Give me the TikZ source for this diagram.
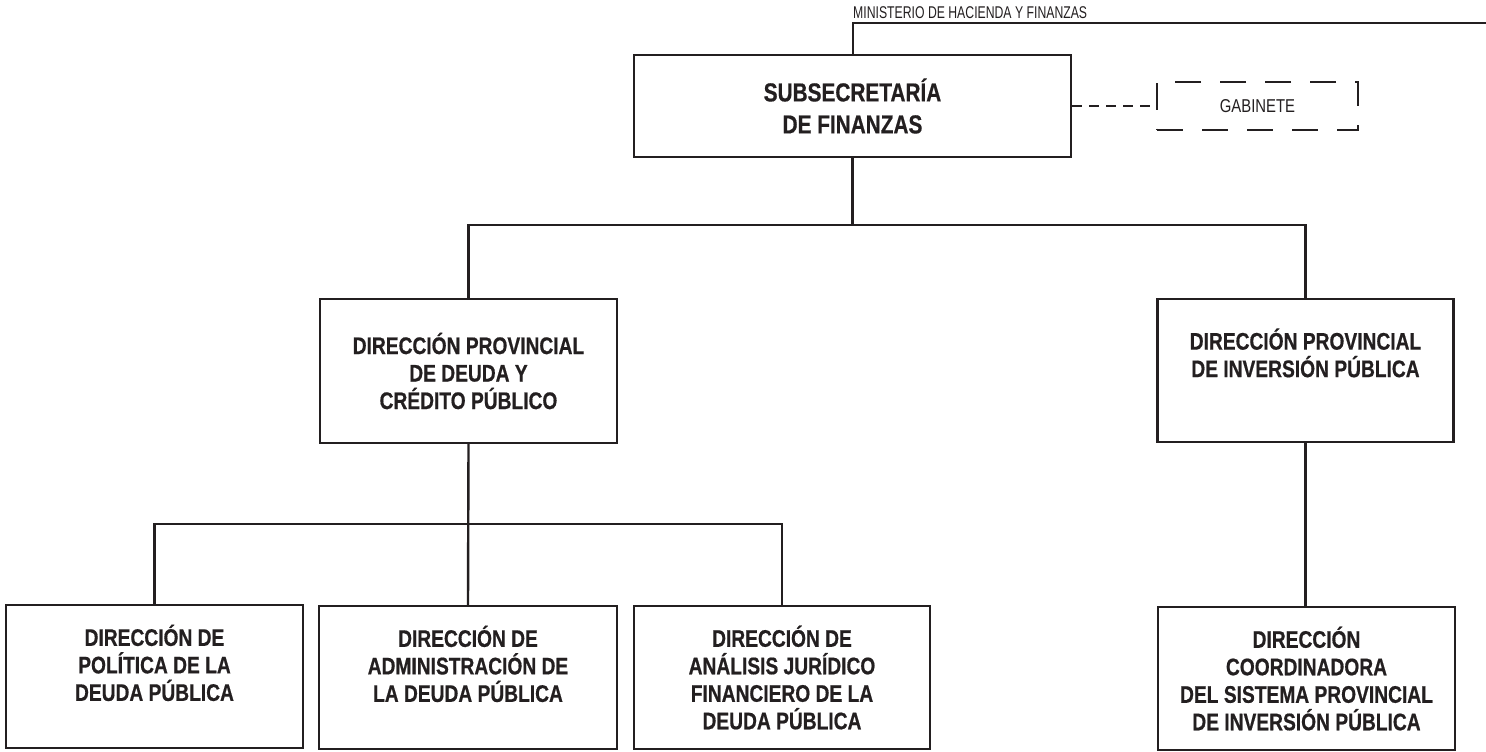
\documentclass[tikz,border=0pt]{standalone}
\usepackage{fontspec}
\setmainfont{Liberation Sans}[FakeStretch=0.8, BoldFeatures={FakeBold=0.6}]
\newfontfamily\narrowfont{Liberation Sans}[FakeStretch=0.72]
\definecolor{ink}{HTML}{231F20}
\tikzset{
  orgline/.style={draw=ink, line width=2.4pt},
  orgbox/.style={draw=ink, line width=2.4pt, rectangle, align=center, text=ink, inner sep=0pt,
     font=\fontsize{24}{27.5}\selectfont\bfseries},
  subbox/.style={orgbox, font=\fontsize{26}{32}\selectfont\bfseries},
  dashbox/.style={draw=ink, line width=2pt, dash pattern=on 26pt off 19pt, rectangle, align=center,
     text=ink, inner sep=0pt, font=\fontsize{18.6}{20}\selectfont},
  dashlink/.style={draw=ink, line width=2pt, dash pattern=on 10pt off 7pt},
  toplabel/.style={text=ink, inner sep=0pt, font=\narrowfont\fontsize{17}{20}\selectfont}
}
\begin{document}
\begin{tikzpicture}[x=1pt,y=-1pt]
\useasboundingbox (0,0) rectangle (1486,752);
% boxes
\node[subbox, minimum width=437pt, minimum height=102pt] (sub) at (852.5,106) {SUBSECRETARÍA\\DE FINANZAS};
\node[dashbox, minimum width=201pt, minimum height=47pt] (gab) at (1257.5,106) {GABINETE};
\node[orgbox, minimum width=297pt, minimum height=144pt] (dpd) at (468.5,371) {DIRECCIÓN PROVINCIAL\\DE DEUDA Y\\CRÉDITO PÚBLICO};
\node[orgbox, minimum width=296pt, minimum height=143pt] (dpi) at (1305.5,370.5) {DIRECCIÓN PROVINCIAL\\DE INVERSIÓN PÚBLICA\\[8pt]};
\node[orgbox, minimum width=297pt, minimum height=143pt] (b1) at (154.5,676.5) {DIRECCIÓN DE\\POLÍTICA DE LA\\DEUDA PÚBLICA\\[0pt]};
\node[orgbox, minimum width=298pt, minimum height=143pt] (b2) at (468,677.5) {DIRECCIÓN DE\\ADMINISTRACIÓN DE\\LA DEUDA PÚBLICA\\[0pt]};
\node[orgbox, minimum width=296pt, minimum height=143pt] (b3) at (782,677.5) {DIRECCIÓN DE\\ANÁLISIS JURÍDICO\\FINANCIERO DE LA\\DEUDA PÚBLICA};
\node[orgbox, minimum width=297pt, minimum height=143pt] (b4) at (1306.5,678.5) {DIRECCIÓN\\COORDINADORA\\DEL SISTEMA PROVINCIAL\\DE INVERSIÓN PÚBLICA};
% top label and line
\node[toplabel, anchor=base west] (min) at (853,19) {MINISTERIO DE HACIENDA Y FINANZAS};
\coordinate (mtop) at (1486,23);
\draw[orgline, line width=2pt] (sub.north) |- (mtop);
% connectors
\draw[dashlink] (sub.east) -- (gab.west);
\coordinate (br1) at (852.5,225);
\draw[orgline] (sub.south) -- (br1);
\draw[orgline] (dpd.north) |- (br1) -| (dpi.north);
\coordinate (br2) at (468.5,524);
\draw[orgline] (dpd.south) -- (b2.north);
\draw[orgline] (b1.north) |- (br2) -| (b3.north);
\draw[orgline] (dpi.south) -- (dpi.south |- b4.north);
\end{tikzpicture}
\end{document}
